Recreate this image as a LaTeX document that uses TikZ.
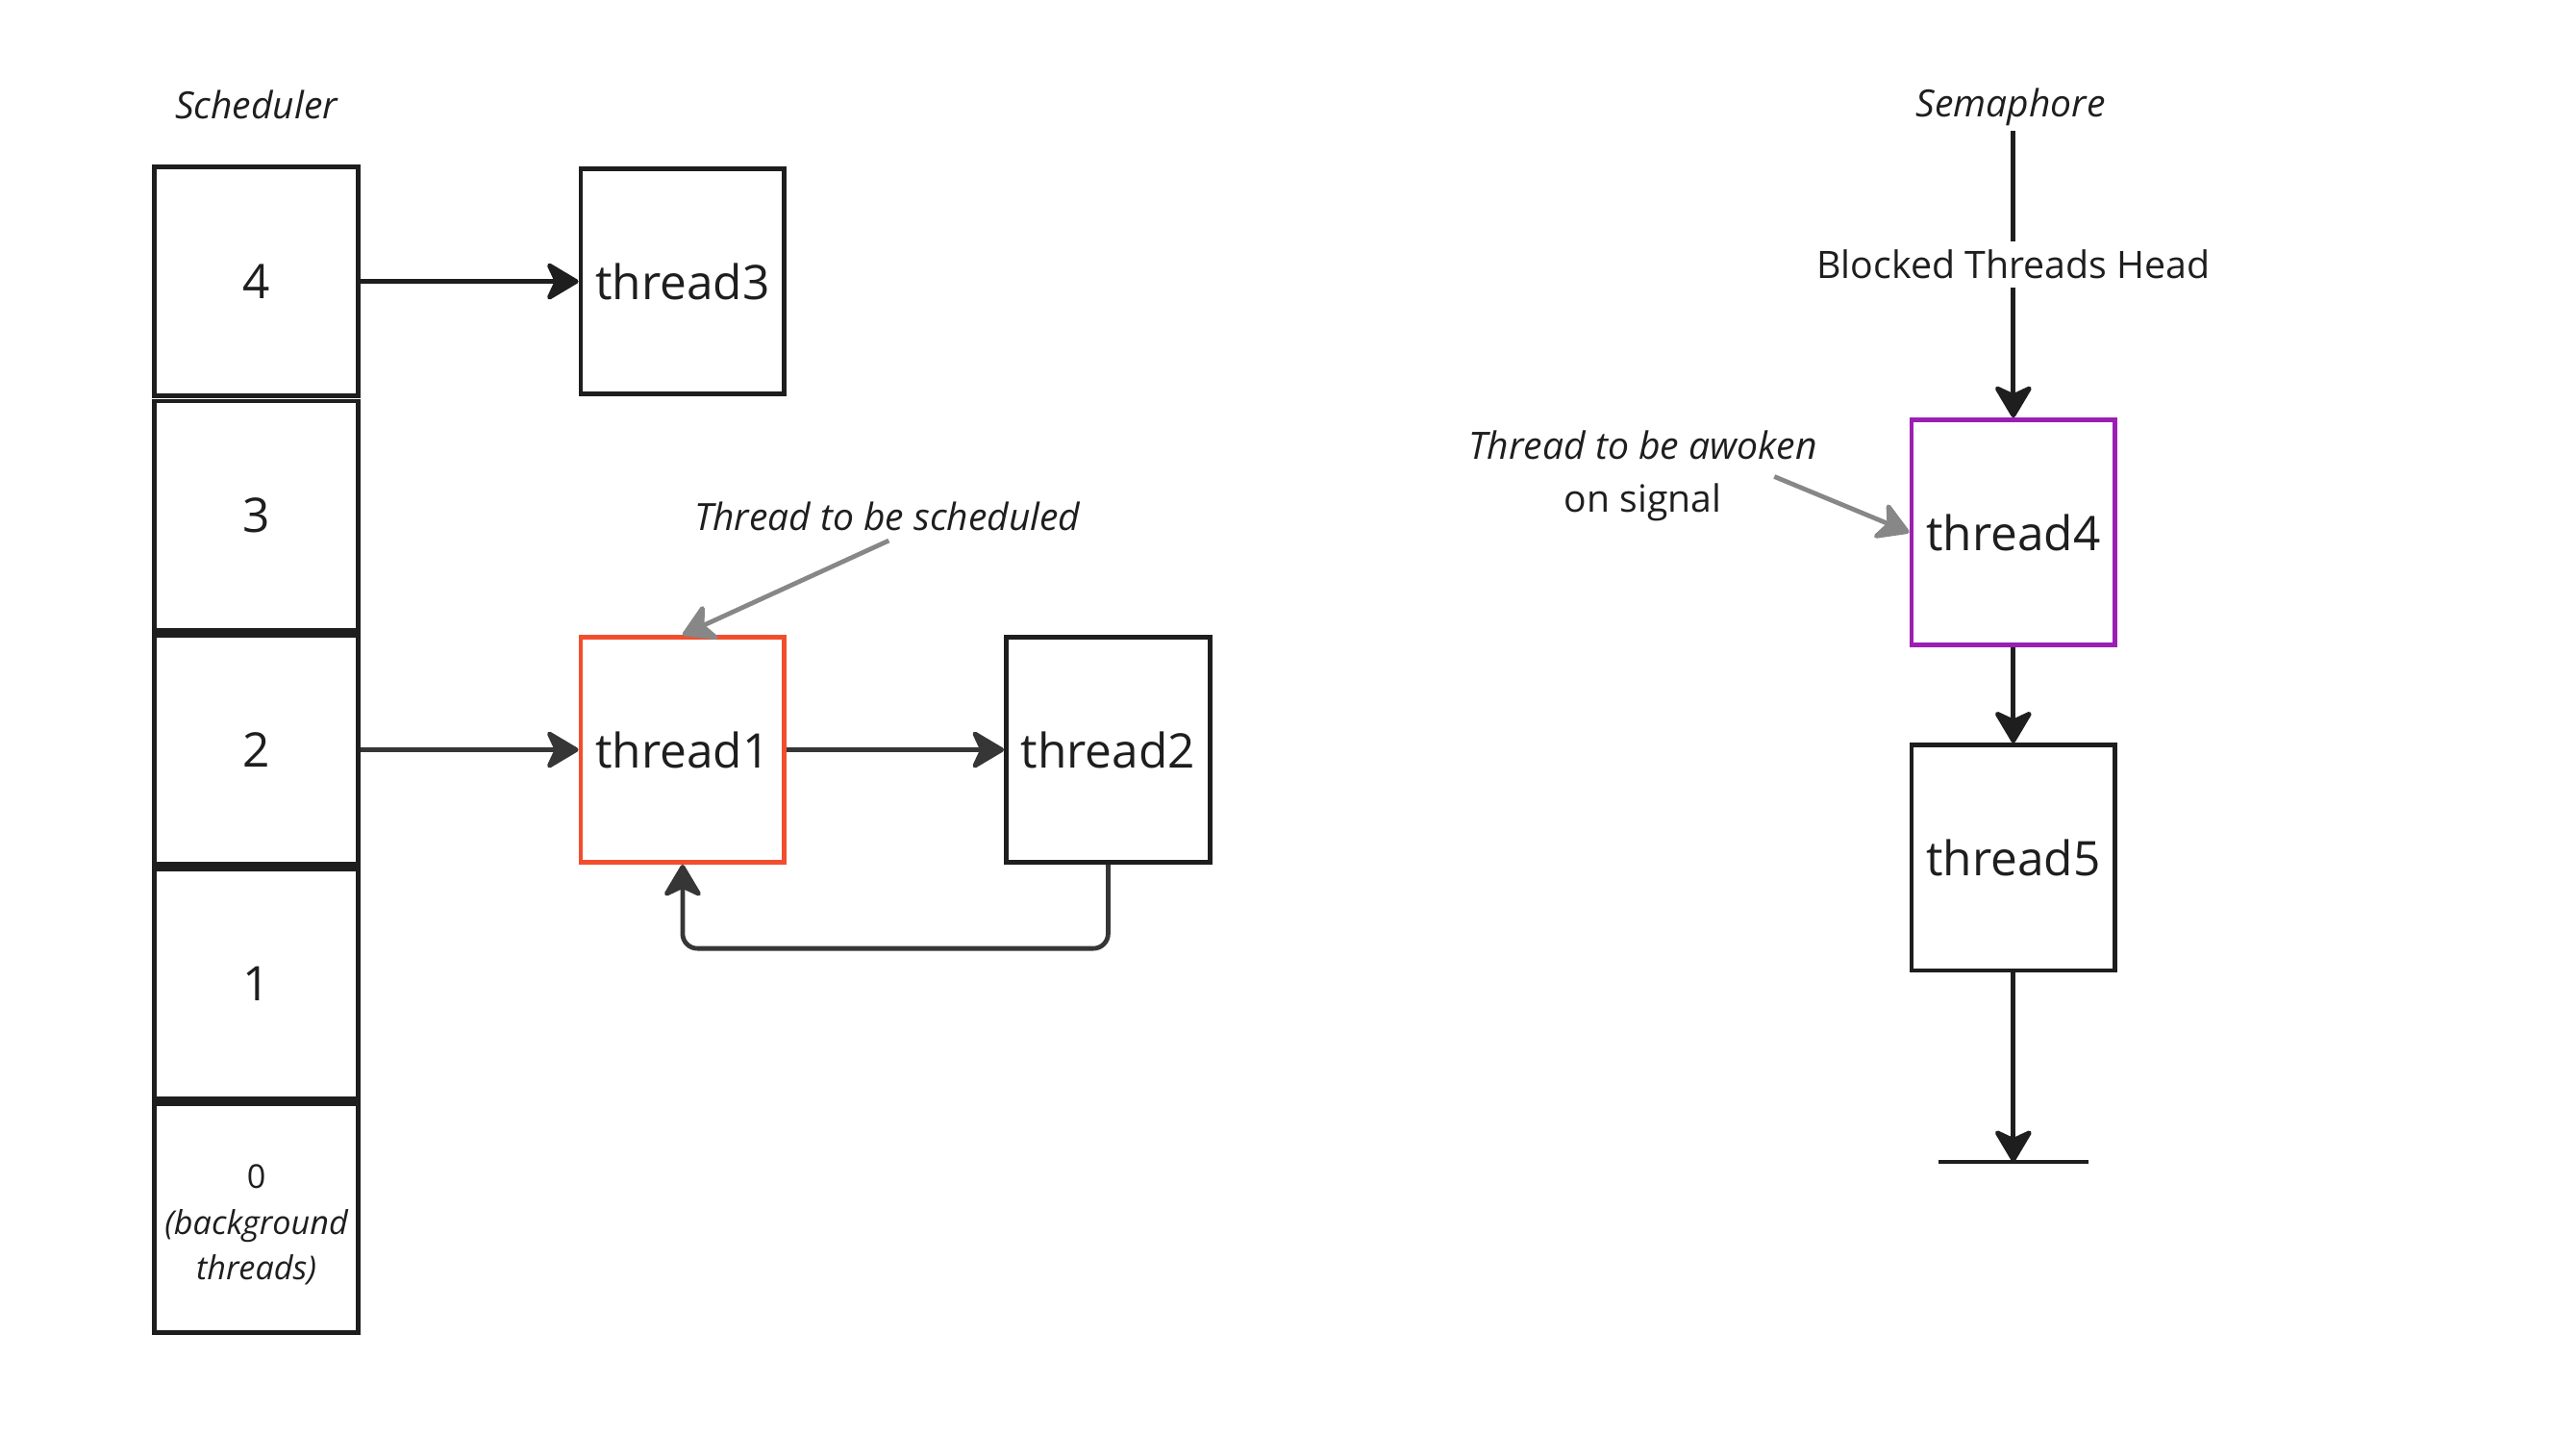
\documentclass[tikz,border=0pt]{standalone}
\usepackage{fontspec}
\setmainfont{Open Sans}
\usetikzlibrary{arrows.meta}
\definecolor{ink}{HTML}{1E1E1E}
\definecolor{darkline}{HTML}{363636}
\definecolor{annot}{HTML}{878787}
\definecolor{redbox}{HTML}{F24E2E}
\definecolor{purplebox}{HTML}{9C1FB4}
\begin{document}
\begin{tikzpicture}[x=1pt,y=-1pt,
  box/.style={draw=ink, line width=2.8pt, minimum width=124pt, minimum height=137pt, inner sep=0pt, font=\fontsize{29}{34}\selectfont, text=ink},
  slot/.style={box, minimum height=139.5pt},
  tip/.style={-{Stealth[length=22pt,width=26pt,inset=6pt,round]}},
  conn/.style={line width=2.8pt, draw=ink, tip},
  conng/.style={line width=2.8pt, draw=darkline, tip},
  pointer/.style={line width=2.8pt, draw=annot, tip},
  note/.style={font=\fontsize{22.8}{32}\selectfont\itshape, text=ink, inner sep=3pt},
  plain/.style={font=\fontsize{23}{32}\selectfont, text=ink}
]
\fill[white] (0,0) rectangle (1568,873.8);
\path[use as bounding box] (0,0) rectangle (1568,873.8);

% Scheduler
\node[note] (sched) at (156,64) {Scheduler};
\node[slot] (s4) at (156,171.25) {4};
\node[slot] (s3) at (156,313.75) {3};
\node[slot] (s2) at (156,456.25) {2};
\node[slot] (s1) at (156,598.75) {1};
\node[slot] (s0) at (156,741.25) {};
\node[align=center, text=ink, font=\fontsize{20}{28}\selectfont] (s0txt) at ([yshift=-4pt]s0.center) {0\\\itshape(background\\\itshape threads)};

\node[box] (t3) at (415.5,171.25) {thread3};
\node[box, draw=redbox] (t1) at (415.5,456.25) {thread1};
\node[box] (t2) at (674.5,456.25) {thread2};

\draw[conn] (s4.east) -- (t3.west);
\draw[conng] (s2.east) -- (t1.west);
\draw[conng] (t1.east) -- (t2.west);
\draw[conng, rounded corners=9pt] (t2.south) -- ++(0,51) -| (t1.south);

\node[note] (sch) at (540,314) {Thread to be scheduled};
\draw[pointer] ([xshift=1pt,yshift=-3pt]sch.south) -- (t1.north);

% Semaphore
\node[note] (sem) at (1224,65) {Semaphore};
\node[plain, inner sep=5pt] (bth) at (1225.5,161) {Blocked Threads Head};
\node[box, draw=purplebox] (t4) at (1225.5,324) {thread4};
\node[box] (t5) at (1225.5,522) {thread5};

\draw[line width=2.8pt, draw=ink] (sem.south -| bth.north) -- (bth.north);
\draw[conn] (bth.south) -- (t4.north);
\draw[conn] (t4.south) -- (t5.north);
\coordinate (gnd) at (1225.5,707);
\coordinate (gl) at (1180,707);
\coordinate (gr) at (1271,707);
\draw[conn] (t5.south) -- (gnd);
\draw[line width=2.8pt, draw=ink] (gl) -- (gr);

\node[align=center, text=ink, font=\fontsize{22.9}{32}\selectfont] (aw) at (1000,289.5) {\itshape Thread to be awoken\\on signal};
\coordinate (awstart) at (1080,290);
\draw[pointer] (awstart) -- (t4.west);
\end{tikzpicture}
\end{document}
